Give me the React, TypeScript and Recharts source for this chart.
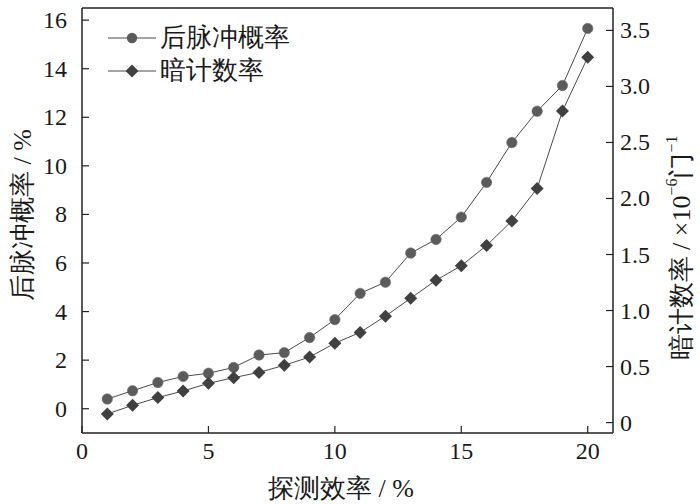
import { Legend, Line, LineChart, ReferenceLine, XAxis, YAxis } from 'recharts';

const efficiency = [1, 2, 3, 4, 5, 6, 7, 8, 9, 10, 11, 12, 13, 14, 15, 16, 17, 18, 19, 20];
const afterpulse = [
  0.4, 0.74, 1.08, 1.33, 1.46, 1.7, 2.21, 2.31, 2.93, 3.67,
  4.75, 5.21, 6.41, 6.97, 7.89, 9.32, 10.96, 12.25, 13.31, 15.66,
];
const darkCount = [
  0.077, 0.154, 0.223, 0.282, 0.35, 0.401, 0.448, 0.511, 0.585, 0.708,
  0.805, 0.95, 1.11, 1.27, 1.4, 1.58, 1.8, 2.09, 2.78, 3.26,
];
const seriesNames = ['后脉冲概率', '暗计数率'];

const xTicks = [0, 5, 10, 15, 20];
const leftTicks = [0, 2, 4, 6, 8, 10, 12, 14, 16];
const rightTicks = [0, 0.5, 1, 1.5, 2, 2.5, 3, 3.5];

const data = efficiency.map((x, i) => ({ x, ap: afterpulse[i], dc: darkCount[i] }));

const AXIS = '#222';
const LINE = '#4a4a4a';
const CIRCLE = '#5b5b5b';
const DIAMOND = '#404040';
const INK = '#1a1a1a';
const SERIF = "'Liberation Serif', 'Times New Roman', serif";

// something on the page wins over attributes and inline styles, so force it
const fontCss = `
#afterpulse-chart text, #afterpulse-chart tspan, #afterpulse-chart .legend-box {
  font-family: ${SERIF} !important;
}
`;

function fmtRight(v: number) {
  return v === 0 ? '0' : v.toFixed(1);
}

function BottomTick(props: any) {
  const { x, y, payload } = props;
  return (
    <text x={x} y={y} dy="0.8em" textAnchor="middle" fontSize={24} fill={INK}>
      {payload.value}
    </text>
  );
}

function LeftTick(props: any) {
  const { x, y, payload } = props;
  return (
    <text x={x} y={y} textAnchor="end" dominantBaseline="central" fontSize={24} fill={INK}>
      {payload.value}
    </text>
  );
}

function RightTick(props: any) {
  const { x, y, payload } = props;
  return (
    <text x={x} y={y} textAnchor="start" dominantBaseline="central" fontSize={24} fill={INK}>
      {fmtRight(payload.value)}
    </text>
  );
}

function circleDot(props: any) {
  const { cx, cy, index } = props;
  return <circle key={`c${index}`} cx={cx} cy={cy} r={5.2} fill={CIRCLE} stroke="#6a6a6a" strokeWidth={0.6} />;
}

function diamondDot(props: any) {
  const { cx, cy, index } = props;
  const s = 6.5;
  return (
    <path
      key={`d${index}`}
      d={`M${cx},${cy - s}L${cx + s},${cy}L${cx},${cy + s}L${cx - s},${cy}Z`}
      fill={DIAMOND}
    />
  );
}

function LegendBox() {
  return (
    <div className="legend-box" style={{ fontSize: 26, color: INK }}>
      {seriesNames.map((name, i) => (
        <div key={name} style={{ display: 'flex', alignItems: 'center', height: 33 }}>
          <svg width={52} height={20} style={{ display: 'block' }}>
            <line x1={0} y1={10} x2={48} y2={10} stroke={LINE} strokeWidth={1} />
            {i === 0 ? (
              <circle cx={24} cy={10} r={5.2} fill={CIRCLE} />
            ) : (
              <path d="M24,3.5L30.5,10L24,16.5L17.5,10Z" fill={DIAMOND} />
            )}
          </svg>
          <span style={{ lineHeight: '33px' }}>{name}</span>
        </div>
      ))}
    </div>
  );
}

export default function App() {
  return (
    <div id="afterpulse-chart" style={{ position: 'absolute', left: 0, top: 0, background: '#fff' }}>
      <style>{fontCss}</style>
      <LineChart width={700} height={504} data={data} margin={{ top: 8, right: 0, bottom: 0, left: 0 }}>
        <XAxis
          dataKey="x"
          type="number"
          domain={[0, 21]}
          ticks={xTicks}
          height={71}
          tickSize={-7}
          tickMargin={14}
          axisLine={{ stroke: AXIS, strokeWidth: 1.5 }}
          tickLine={{ stroke: AXIS, strokeWidth: 1.2 }}
          tick={<BottomTick />}
          label={{
            content: () => (
              <text x={341} y={488} textAnchor="middle" dominantBaseline="central" fontSize={26} fill={INK}>
                探测效率 / %
              </text>
            ),
          }}
        />
        <YAxis
          yAxisId="l"
          domain={[-1, 16.5]}
          ticks={leftTicks}
          width={82}
          tickSize={-7}
          tickMargin={22}
          axisLine={{ stroke: AXIS, strokeWidth: 1.5 }}
          tickLine={{ stroke: AXIS, strokeWidth: 1.2 }}
          tick={<LeftTick />}
          label={{
            content: () => (
              <text x={22} y={215} transform="rotate(-90 22 215)" textAnchor="middle" dominantBaseline="central" fontSize={26} fill={INK}>
                后脉冲概率 / %
              </text>
            ),
          }}
        />
        <YAxis
          yAxisId="r"
          orientation="right"
          domain={[-0.093, 3.7]}
          ticks={rightTicks}
          width={87}
          tickSize={-7}
          tickMargin={14}
          axisLine={{ stroke: AXIS, strokeWidth: 1.5 }}
          tickLine={{ stroke: AXIS, strokeWidth: 1.2 }}
          tick={<RightTick />}
          label={{
            content: () => (
              <text x={681} y={248} transform="rotate(-90 681 248)" textAnchor="middle" dominantBaseline="central" fontSize={26} fill={INK}>
                暗计数率 / ×10
                <tspan fontSize={16} dy={-10}>−6</tspan>
                <tspan dy={10}>门</tspan>
                <tspan fontSize={16} dy={-10}>−1</tspan>
              </text>
            ),
          }}
        />
        <ReferenceLine yAxisId="l" y={16.5} stroke={AXIS} strokeWidth={1.5} />
        <Legend
          layout="vertical"
          align="center"
          verticalAlign="middle"
          wrapperStyle={{ top: 21, left: 108, width: 'auto' }}
          content={() => <LegendBox />}
        />
        <Line
          yAxisId="l"
          dataKey="ap"
          name={seriesNames[0]}
          stroke={LINE}
          strokeWidth={1}
          dot={circleDot}
          activeDot={false}
          isAnimationActive={false}
        />
        <Line
          yAxisId="r"
          dataKey="dc"
          name={seriesNames[1]}
          stroke={LINE}
          strokeWidth={1}
          dot={diamondDot}
          activeDot={false}
          isAnimationActive={false}
        />
      </LineChart>
    </div>
  );
}
